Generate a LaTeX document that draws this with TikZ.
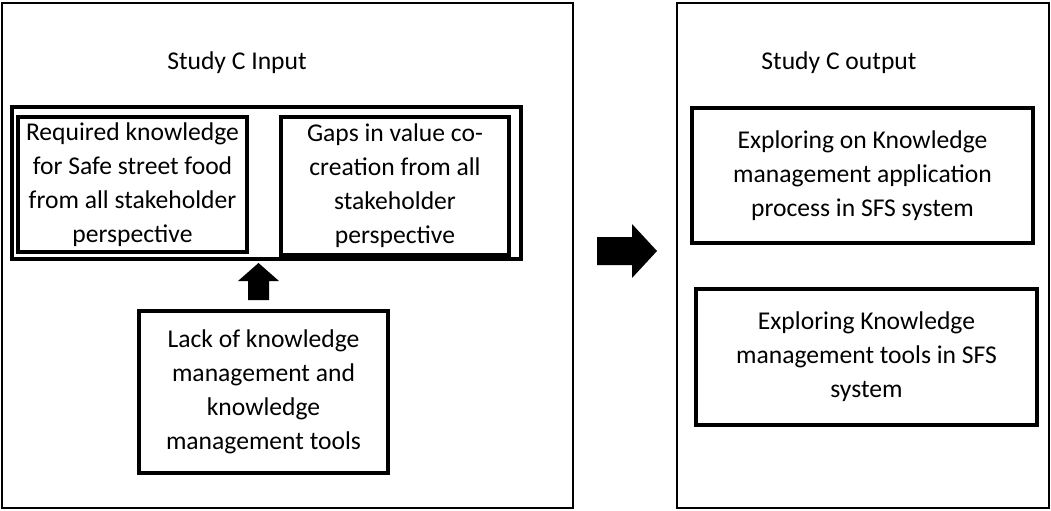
\documentclass[tikz,border=0pt]{standalone}
\usepackage{fontspec}
\setmainfont{Carlito}
\newcommand{\studyfont}{\fontsize{12.8}{17}\selectfont}

\begin{document}
\begin{tikzpicture} [x=0.5pt, y=-0.5pt,
                every node/.style={font=\studyfont, align=center, inner sep=0pt},
                frame_style/.style={draw=black, line width=1.4pt},
                box_style/.style={draw=black, line width=1.6pt}]
                \tikzset{block arrow/.style={fill=black}}
                \useasboundingbox (0,0) rectangle (1051,510);
                \node [frame_style, minimum width=285.5pt, minimum height=252.5pt] (inFrame) at (287.5,255.5) {};
                \node [frame_style, minimum width=186pt, minimum height=252.5pt] (outFrame) at (863,255.5) {};
                \node (inTitle) at (237,63) {Study C Input};
                \node (outTitle) at (839,63) {Study C output};
                \node [box_style, minimum width=254.5pt, minimum height=76pt] (inGroup) at (266.5,183) {};
                \node [box_style, minimum width=114.5pt, minimum height=67.5pt] (reqBox) at (132.5,184.5) {Required knowledge\\for Safe street food\\from all stakeholder\\perspective};
                \node [box_style, minimum width=114pt, minimum height=69pt] (gapBox) at (395,186) {Gaps in value co-\\creation from all\\stakeholder\\perspective};
                \node [box_style, minimum width=124.5pt, minimum height=81pt] (lackBox) at (263.5,392) {Lack of knowledge\\management and\\knowledge\\management tools};
                \node [box_style, minimum width=170.5pt, minimum height=67.5pt] (appBox) at (862.5,175.5) {Exploring on Knowledge\\management application\\process in SFS system};
                \node [box_style, minimum width=170.5pt, minimum height=68pt] (toolBox) at (866.5,357) {Exploring Knowledge\\management tools in SFS\\system};
                \coordinate (upBase) at (258.5,300);
                \coordinate (rightBase) at (597,251);
                \fill [block arrow] (upBase) ++(-10.5,0) -- ++(0,-19) -- ++(-10,0) -- ++(20.5,-18) -- ++(20.5,18) -- ++(-10,0) -- ++(0,19) -- cycle;
                \fill [block arrow] (rightBase) ++(0,-14) -- ++(35,0) -- ++(0,-13) -- ++(25,27) -- ++(-25,27) -- ++(0,-13) -- ++(-35,0) -- cycle;
            \end{tikzpicture}
\end{document}
